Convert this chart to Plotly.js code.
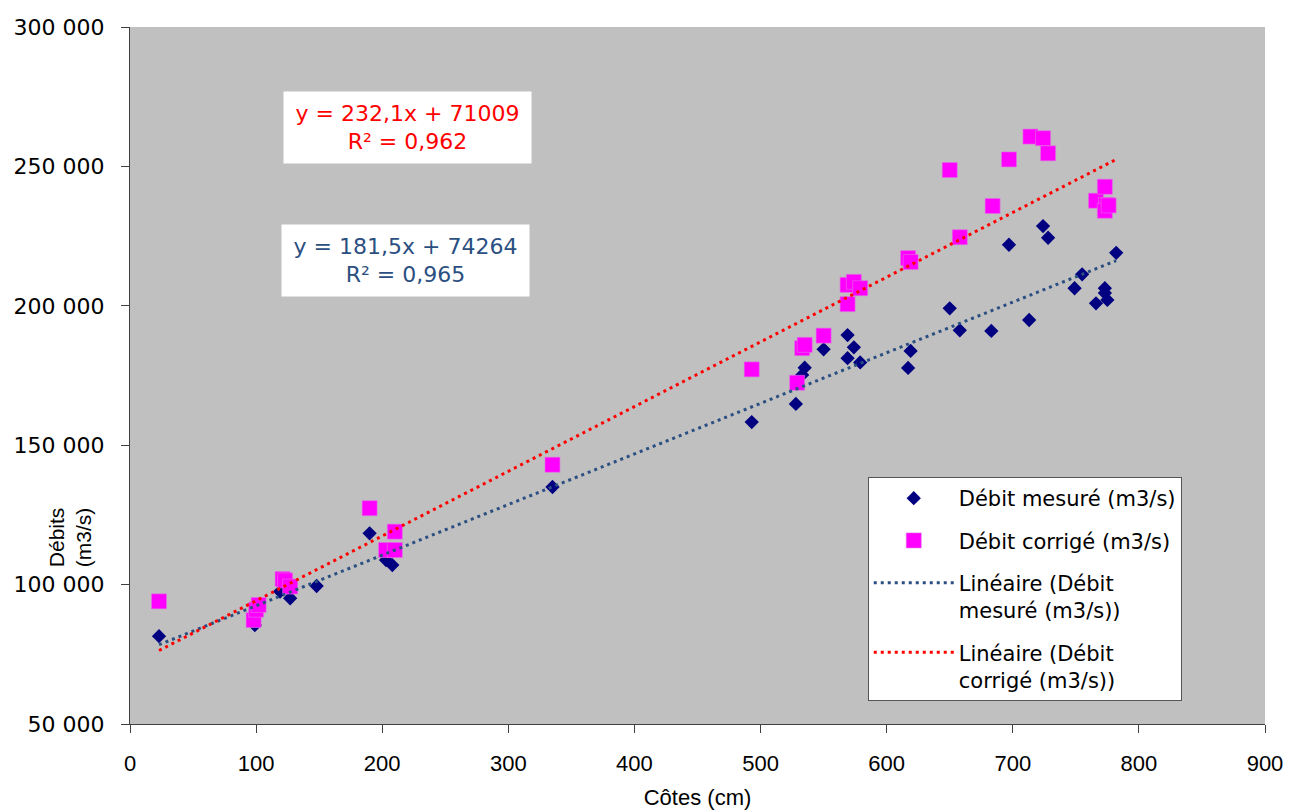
<!DOCTYPE html>
<html><head><meta charset="utf-8">
<script src="https://cdn.plot.ly/plotly-3.0.1.min.js"></script>
<style>html,body{margin:0;padding:0;background:#fff;} #chart{width:1302px;height:812px;}</style>
</head><body><div id="chart"></div>
<script>
// Débit mesuré (m3/s)
const mesureX = [23, 99, 119, 127, 148, 190, 203, 208, 335, 493, 528, 533, 535, 550, 569, 574, 569, 579, 617, 619, 650, 658, 683, 697, 713, 724, 728, 749, 755, 766, 773, 773, 775, 782];
const mesureY = [81500, 85500, 97500, 95100, 99500, 118400, 108800, 107000, 135000, 158300, 164800, 175200, 177800, 184400, 189500, 185100, 181200, 179700, 177700, 183800, 199100, 191200, 191000, 221900, 194900, 228600, 224400, 206300, 211300, 200900, 206300, 204600, 202100, 219000];
// Débit corrigé (m3/s)
const corrigeX = [23, 98, 100, 102, 121, 123, 127, 190, 203, 210, 210, 335, 493, 529, 533, 535, 550, 569, 574, 579, 569, 617, 619, 650, 658, 684, 697, 714, 724, 728, 766, 773, 774, 773, 776];
const corrigeY = [94000, 87300, 91000, 92700, 102000, 101500, 99300, 127400, 112400, 112400, 119000, 143000, 177200, 172400, 184800, 186000, 189300, 207500, 208600, 206300, 200600, 217100, 215700, 248700, 224600, 235800, 252500, 260700, 260100, 254700, 237700, 242700, 236200, 234100, 236000];
// Linear trendlines (as displayed)
const slopeMesure = 181.5, interceptMesure = 74264, r2Mesure = '0,965';
const slopeCorrige = 232.1, interceptCorrige = 71009, r2Corrige = '0,962';
const xTicks = [0, 100, 200, 300, 400, 500, 600, 700, 800, 900];
const yTicks = [50000, 100000, 150000, 200000, 250000, 300000];

const trendX = [Math.min(...mesureX), Math.max(...mesureX)];
const trendMesureY = trendX.map(x => slopeMesure * x + interceptMesure);
const trendCorrigeY = trendX.map(x => slopeCorrige * x + interceptCorrige);

const wide = 'DejaVu Sans, Arial, sans-serif';
const narrow = 'Liberation Sans, Arial, sans-serif';

const traces = [
  {x: mesureX, y: mesureY, mode: 'markers', type: 'scatter', name: 'Débit mesuré (m3/s)', legendgroup: 'a',
   marker: {symbol: 'diamond', size: 11, color: '#000080'}},
  {x: corrigeX, y: corrigeY, mode: 'markers', type: 'scatter', name: 'Débit corrigé (m3/s)', legendgroup: 'b',
   marker: {symbol: 'square', size: 15, color: '#FF00FF', line: {width: 0.6, color: '#E070E0'}}},
  {x: trendX, y: trendMesureY, mode: 'lines', type: 'scatter', name: 'Linéaire (Débit<br>mesuré (m3/s))', legendgroup: 'c',
   line: {color: '#2B4F81', width: 3, dash: '3px,4px'}},
  {x: trendX, y: trendCorrigeY, mode: 'lines', type: 'scatter', name: 'Linéaire (Débit<br>corrigé (m3/s))', legendgroup: 'd',
   line: {color: '#FF0000', width: 3, dash: '3px,4px'}}
];

const layout = {
  width: 1302, height: 812,
  margin: {l: 130, r: 37, t: 27, b: 88},
  paper_bgcolor: '#FFFFFF', plot_bgcolor: '#C0C0C0',
  separators: ', ',
  showlegend: true,
  xaxis: {
    range: [0, 900], tickvals: xTicks, showgrid: false, zeroline: false,
    showline: true, linecolor: '#404040', linewidth: 1,
    ticks: 'outside', ticklen: 8, tickcolor: '#404040', ticklabelstandoff: 12,
    tickfont: {family: narrow, size: 22, color: '#000'},
    title: {text: 'Côtes (cm)', font: {family: narrow, size: 22, color: '#000'}, standoff: 14}
  },
  yaxis: {
    range: [50000, 300000], tickvals: yTicks, tickformat: ',d', showgrid: false, zeroline: false,
    showline: true, linecolor: '#404040', linewidth: 1,
    ticks: 'outside', ticklen: 8, tickcolor: '#404040', ticklabelstandoff: 12,
    tickfont: {family: wide, size: 22, color: '#000'},
    title: {text: ''}
  },
  legend: {
    x: 0.650, y: 0.3544, xanchor: 'left', yanchor: 'top',
    bgcolor: '#FFFFFF', bordercolor: '#555555', borderwidth: 1,
    font: {family: wide, size: 21, color: '#000'},
    itemwidth: 80, valign: 'top', tracegroupgap: 12, traceorder: 'grouped'
  },
  annotations: [
    {xref: 'paper', yref: 'paper', x: 0.2449, y: 0.8551, xanchor: 'center', yanchor: 'middle',
     text: 'y = ' + String(slopeCorrige).replace('.', ',') + 'x + ' + interceptCorrige + '<br>R² = ' + r2Corrige,
     showarrow: false, bgcolor: '#FFFFFF', width: 245, height: 69, align: 'center',
     font: {family: wide, size: 22, color: '#FF0000'}},
    {xref: 'paper', yref: 'paper', x: 0.2423, y: 0.665, xanchor: 'center', yanchor: 'middle',
     text: 'y = ' + String(slopeMesure).replace('.', ',') + 'x + ' + interceptMesure + '<br>R² = ' + r2Mesure,
     showarrow: false, bgcolor: '#FFFFFF', width: 245, height: 69, align: 'center',
     font: {family: wide, size: 22, color: '#2B4F81'}},
    {xref: 'paper', yref: 'paper', x: -0.0529, y: 0.268, xanchor: 'center', yanchor: 'middle',
     text: 'Débits<br>(m3/s)', textangle: -90, showarrow: false,
     font: {family: narrow, size: 21, color: '#000'}}
  ]
};

Plotly.newPlot('chart', traces, layout, {displayModeBar: false, staticPlot: true});
</script>
</body></html>
